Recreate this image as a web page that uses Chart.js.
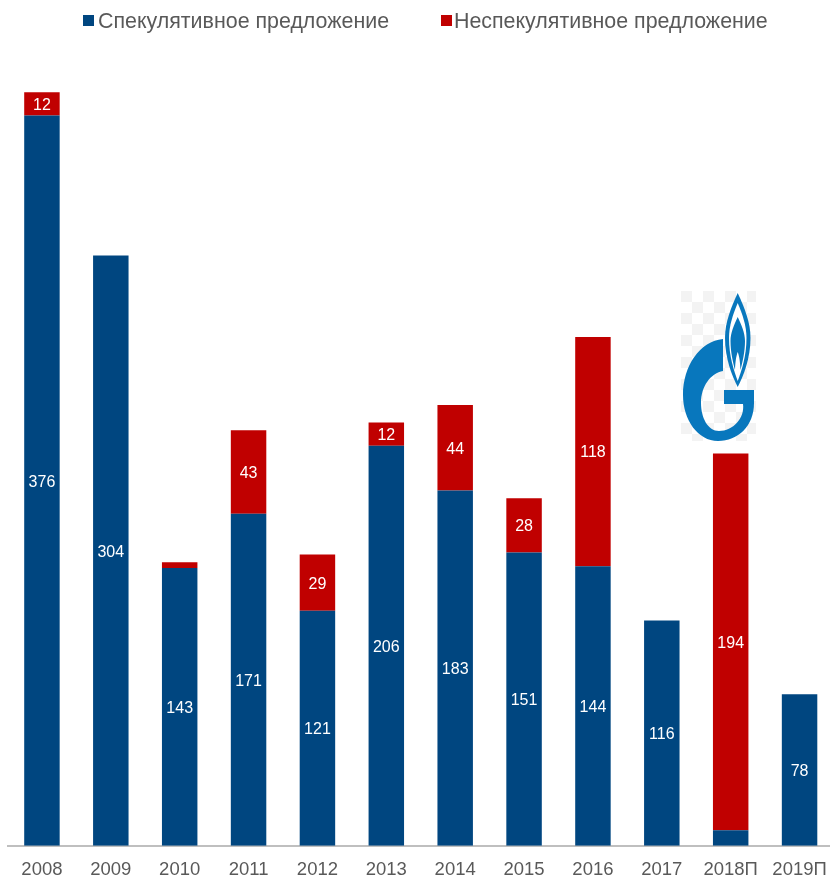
<!DOCTYPE html>
<html lang="ru">
<head>
<meta charset="utf-8">
<title>Предложение</title>
<script src="https://cdn.jsdelivr.net/npm/chart.js@4"></script>
<style>
  html, body { margin: 0; padding: 0; background: #fff; overflow: hidden; }
  #wrap { position: relative; width: 830px; height: 877px; overflow: hidden; }
  #chart { position: absolute; left: 0; top: 0; }
  .legend-box { position: absolute; top: 15px; width: 11px; height: 11px; }
  .legend-text { position: absolute; top: 9px; font: 21.4px "Liberation Sans", Arial, sans-serif; color: #595959; line-height: 24px; white-space: nowrap; }
  #logo { position: absolute; left: 0; top: 0; pointer-events: none; }
</style>
</head>
<body>
<div id="wrap">
  <canvas id="chart"></canvas>
  <div class="legend-box" id="box0" style="left:83px"></div>
  <div class="legend-text" id="txt0" style="left:98px"></div>
  <div class="legend-box" id="box1" style="left:441px"></div>
  <div class="legend-text" id="txt1" style="left:454px"></div>
  <svg id="logo" width="830" height="877" viewBox="0 0 830 877">
    <defs>
      <pattern id="checks" x="681" y="291" width="22" height="22" patternUnits="userSpaceOnUse">
        <rect width="22" height="22" fill="#ffffff"/>
        <rect width="11" height="11" fill="#f3f3f3"/>
        <rect x="11" y="11" width="11" height="11" fill="#f3f3f3"/>
      </pattern>
    </defs>
    <rect x="681" y="291" width="75" height="150" fill="url(#checks)"/>
    <path fill="#0877bd" d="M737.7 293 C731 308 725 322 725 338 C725 358 732 376 737.7 387 C743.5 376 750.5 358 750.5 338 C750.5 322 744.5 308 737.7 293 Z"/>
    <path fill="#ffffff" d="M737.7 303 C733 314 729 326 729 338 C729 356 734 371 737.7 381 C741.5 371 746.5 356 746.5 338 C746.5 326 742.5 314 737.7 303 Z"/>
    <path fill="#0877bd" d="M737.7 317 C734 325 730.5 333 730.5 341 C730.5 352 733 362 735 370 C735.5 361 736 357 737.7 352 C739.5 357 740 361 740.5 370 C742.5 362 745 352 745 341 C745 333 741.5 325 737.7 317 Z"/>
    <path fill="#0877bd" d="M723 339 C700 341 683 366 683 395 C683 420 698 441 718 441 C738 441 754 426 754 403 L754 390 L724 390 L724 404 L743 404 C745 418 733 431 719 431 C708 431 701 418 701 403 C701 386 711 373 723 371 Z"/>
  </svg>
</div>
<script>
const categories = ['2008', '2009', '2010', '2011', '2012', '2013', '2014', '2015', '2016', '2017', '2018П', '2019П'];
const speculative = [376, 304, 143, 171, 121, 206, 183, 151, 144, 116, 8, 78];
const nonSpeculative = [12, 0, 3, 43, 29, 12, 44, 28, 118, 0, 194, 0];
const seriesNames = ['Спекулятивное предложение', 'Неспекулятивное предложение'];
const seriesColors = ['#004680', '#c00000'];
const minLabelValue = 10; // thin segments carry no label in the original

seriesNames.forEach((name, i) => {
    document.getElementById('txt' + i).textContent = name;
    document.getElementById('box' + i).style.background = seriesColors[i];
});

// no datalabels plugin here, so the numbers are drawn by hand
const barLabels = {
    id: 'barLabels',
    afterDatasetsDraw(chart) {
        const ctx = chart.ctx;
        ctx.save();
        ctx.fillStyle = '#ffffff';
        ctx.font = '16px "Liberation Sans", Arial, sans-serif';
        ctx.textAlign = 'center';
        ctx.textBaseline = 'middle';
        chart.data.datasets.forEach((ds, d) => {
            chart.getDatasetMeta(d).data.forEach((bar, i) => {
                if (ds.data[i] < minLabelValue) return;
                const p = bar.getProps(['x', 'y', 'base']);
                ctx.fillText(ds.data[i], p.x, (p.y + p.base) / 2 + 1.5);
            });
        });
        ctx.restore();
    }
};

// canvas is taller and wider than the window: the last bar's slot runs off the right edge
const canvas = document.getElementById('chart');
canvas.style.width = '850px';
canvas.style.height = '894px';

new Chart(canvas, {
    type: 'bar',
    data: {
        labels: categories,
        datasets: [
            { label: seriesNames[0], data: speculative, backgroundColor: seriesColors[0] },
            { label: seriesNames[1], data: nonSpeculative, backgroundColor: seriesColors[1] }
        ]
    },
    options: {
        responsive: false,
        animation: false,
        layout: { padding: { left: 7.5, right: 16, top: 69 } },
        datasets: { bar: { barPercentage: 0.515, categoryPercentage: 1 } },
        plugins: { legend: { display: false }, tooltip: { enabled: false } },
        scales: {
            x: {
                stacked: true,
                grid: { display: false, drawTicks: false },
                border: { color: '#bfbfbf', width: 2 },
                ticks: {
                    color: '#595959',
                    font: { size: 18.5, family: '"Liberation Sans", Arial, sans-serif' },
                    padding: 13,
                    maxRotation: 0,
                    autoSkip: false
                }
            },
            y: { stacked: true, display: false, min: 0, max: 400 }
        }
    },
    plugins: [barLabels]
});
</script>
</body>
</html>
